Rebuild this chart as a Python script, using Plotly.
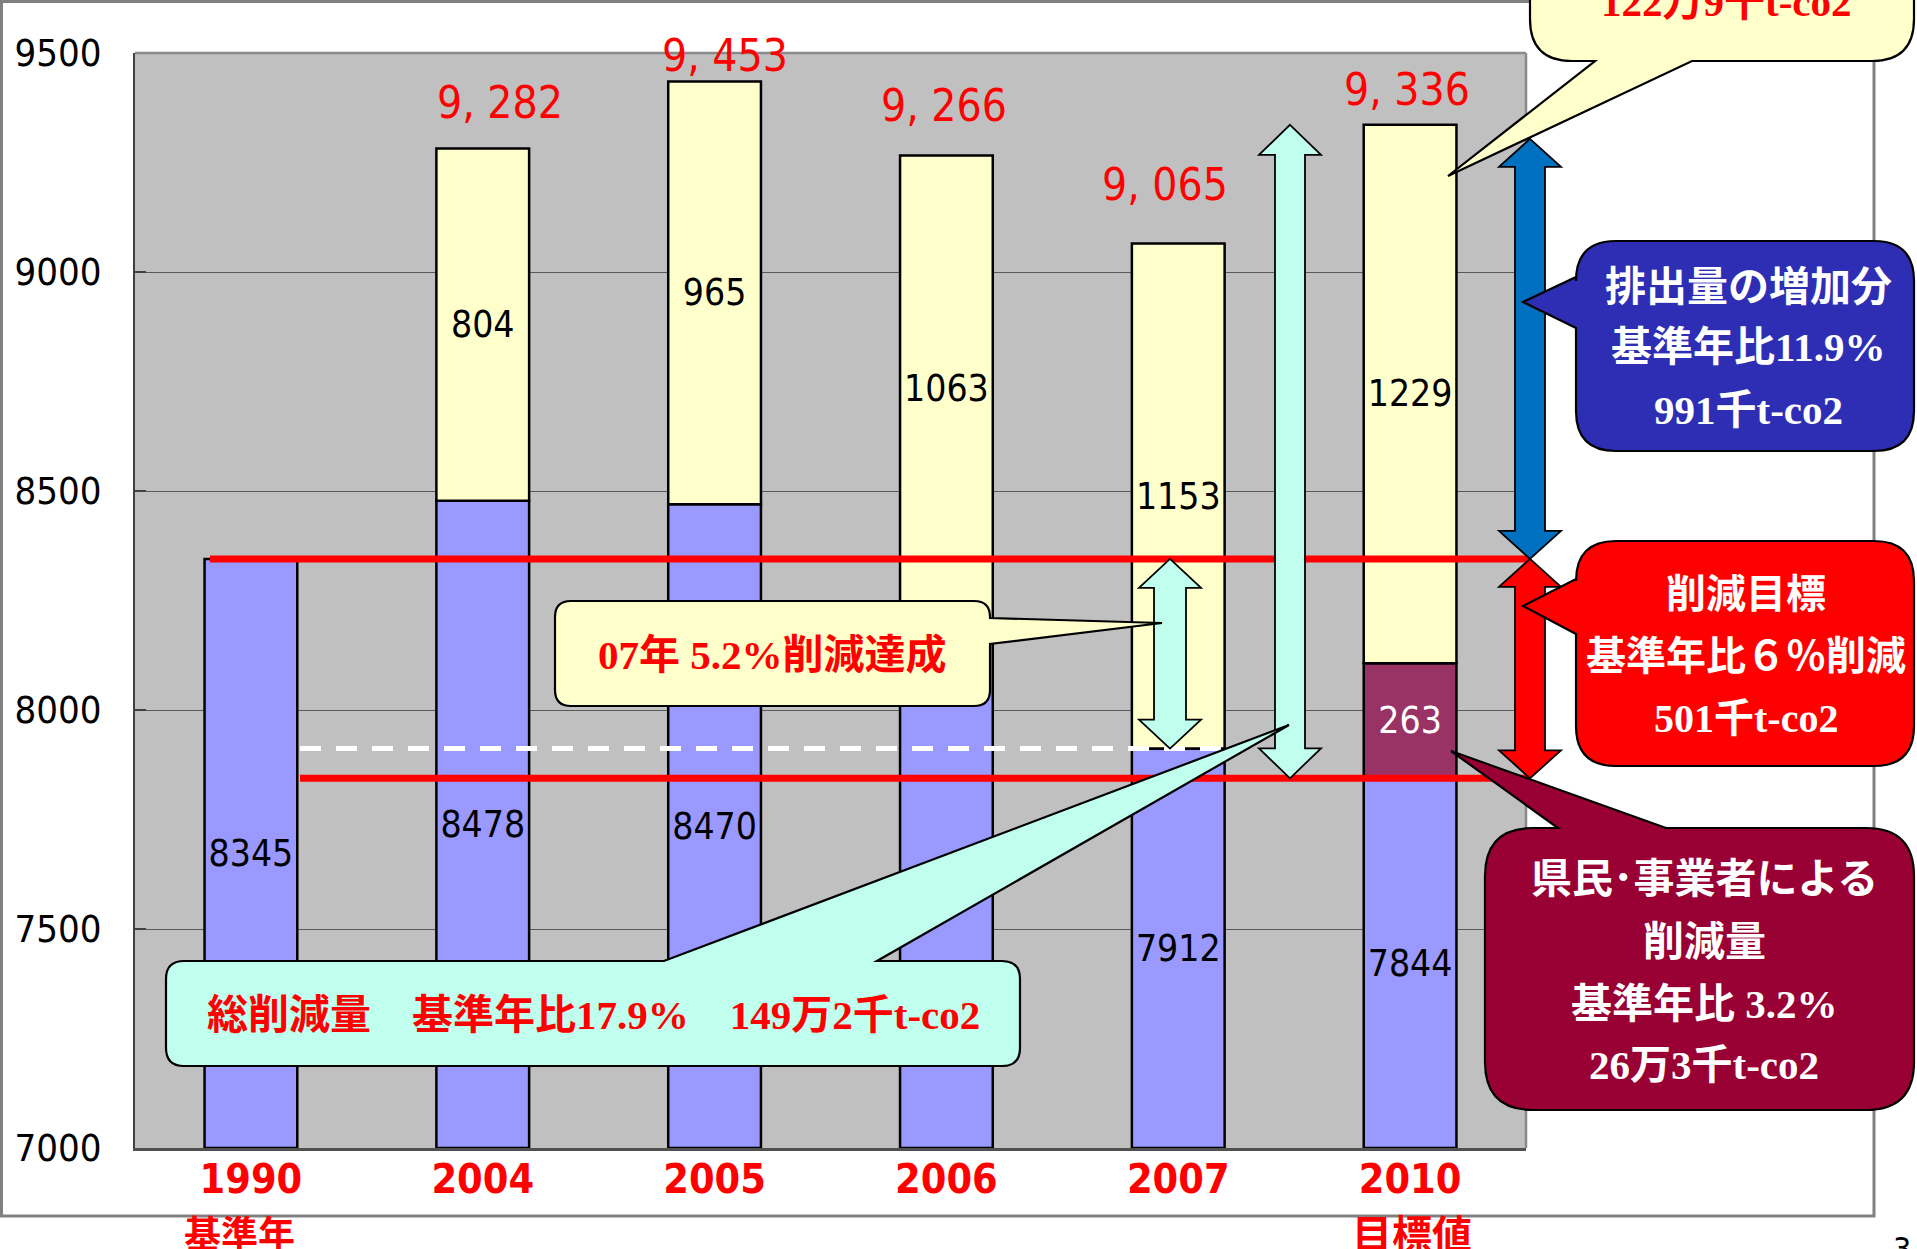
import plotly.graph_objects as go

# ---------------- data ----------------
years = ["1990", "2004", "2005", "2006", "2007", "2010"]
base_vals = [8345, 8478, 8470, 8203, 7912, 7844]          # blue segment (top value)
cut_vals = [None, None, None, None, None, 263]             # purple segment (2010)
increase_vals = [None, 804, 965, 1063, 1153, 1229]         # yellow segment
base_labels = ["8345", "8478", "8470", "", "7912", "7844"]
cut_labels = ["", "", "", "", "", "263"]
increase_labels = ["", "804", "965", "1063", "1153", "1229"]
total_labels = ["", "9, 282", "9, 453", "9, 266", "9, 065", "9, 336"]
sub_label_years = ["1990", "2010"]
sub_labels = ["基準年", "目標値"]
y_ticks = [7000, 7500, 8000, 8500, 9000, 9500]
y_tick_text = ["7000", "7500", "8000", "8500", "9000", "9500"]
base_year_value = 8345      # 1990 level
target_value = 7844         # 6% reduction target
achieved_2007 = 7912        # 2007 level

Y_MIN, Y_MAX = y_ticks[0], y_ticks[-1]
cut_base = [b for b in base_vals]
inc_base = [b + (c or 0) for b, c in zip(base_vals, cut_vals)]
totals = [ib + (i or 0) for ib, i in zip(inc_base, increase_vals)]

# ---------------- layout geometry ----------------
W, H = 1917, 1249
ML, MR, MT, MB = 135, 391, 53, 101
PW = W - ML - MR
PH = H - MT - MB
DATA_PER_PX = (Y_MAX - Y_MIN) / PH


def px(x):
    return (x - ML) / PW


def py(y):
    return (H - MB - y) / PH


NARROW = "DejaVu Sans Condensed, Liberation Sans Narrow, Arial Narrow, sans-serif"
CALLOUT_FONT = "Liberation Serif, Times New Roman, Noto Sans CJK JP, serif"
CJK = "Noto Sans CJK JP, sans-serif"

fig = go.Figure()

bar_line = dict(color="black", width=2.5)
common = dict(width=0.4, textposition="inside", insidetextanchor="middle",
              constraintext="none", textangle=0, hoverinfo="skip")
fig.add_trace(go.Bar(x=years, y=[v - Y_MIN for v in base_vals], base=Y_MIN, text=base_labels,
                     marker=dict(color="#9999FF", line=bar_line),
                     textfont=dict(family=NARROW, size=37, color="black"), **common))
fig.add_trace(go.Bar(x=years, y=cut_vals, base=cut_base, text=cut_labels,
                     marker=dict(color="#993366", line=bar_line),
                     textfont=dict(family=NARROW, size=37, color="white"), **common))
fig.add_trace(go.Bar(x=years, y=increase_vals, base=inc_base, text=increase_labels,
                     marker=dict(color="#FFFFCC", line=bar_line),
                     textfont=dict(family=NARROW, size=37, color="black"), **common))

shapes = []
# outer slide frame
shapes.append(dict(type="rect", xref="paper", yref="paper",
                   x0=px(1.5), x1=px(1874), y0=py(1.5), y1=py(1216),
                   line=dict(color="#808080", width=3), fillcolor="rgba(0,0,0,0)"))
# plot area top/right border
shapes.append(dict(type="line", xref="paper", yref="paper", x0=0, x1=1, y0=1, y1=1,
                   line=dict(color="#8a8a8a", width=2.5)))
shapes.append(dict(type="line", xref="paper", yref="paper", x0=1, x1=1, y0=0, y1=1,
                   line=dict(color="#8a8a8a", width=2.5)))

# red reference lines
shapes.append(dict(type="line", xref="paper", yref="y", x0=px(210), x1=px(1530),
                   y0=base_year_value, y1=base_year_value,
                   line=dict(color="#FF0000", width=7)))
shapes.append(dict(type="line", xref="paper", yref="y", x0=px(300), x1=px(1530),
                   y0=target_value, y1=target_value,
                   line=dict(color="#FF0000", width=7)))
# white dashed 2007 line
shapes.append(dict(type="line", xref="paper", yref="y", x0=px(300), x1=px(1222),
                   y0=achieved_2007, y1=achieved_2007,
                   line=dict(color="white", width=5, dash="21px,15px")))


def varrow(xc, ytop, ybot, shaft, head, hlen, color):
    hl = hlen * DATA_PER_PX
    pts = [(0, ytop), (head / 2, ytop - hl), (shaft / 2, ytop - hl), (shaft / 2, ybot + hl),
           (head / 2, ybot + hl), (0, ybot), (-head / 2, ybot + hl), (-shaft / 2, ybot + hl),
           (-shaft / 2, ytop - hl), (-head / 2, ytop - hl)]
    path = "M " + " L ".join(f"{px(xc + dx):.5f},{yy:.3f}" for dx, yy in pts) + " Z"
    return dict(type="path", xref="paper", yref="y", path=path,
                fillcolor=color, line=dict(color="black", width=1.8))


CYAN = "#C0FFEE"
shapes.append(varrow(1170, base_year_value, achieved_2007, 32, 62, 29, CYAN))
shapes.append(varrow(1290, totals[5], target_value, 30, 62, 30, CYAN))
shapes.append(varrow(1530, totals[5] - 14 * DATA_PER_PX, base_year_value, 30, 62, 28, "#0070C0"))
shapes.append(varrow(1530, base_year_value, target_value, 30, 62, 28, "#FF0000"))


def callout(x0, y0, x1, y1, r, side, p1, tip, p2, fill):
    """Rounded rectangle (pixel coords) with a triangular pointer on one side."""
    seg = []

    def P(x, y):
        return f"{px(x):.5f},{py(y):.5f}"

    seg.append("M " + P(x0 + r, y0))
    if side == "top":
        seg += ["L " + P(p1, y0), "L " + P(*tip), "L " + P(p2, y0)]
    seg.append("L " + P(x1 - r, y0))
    seg.append("Q " + P(x1, y0) + " " + P(x1, y0 + r))
    if side == "right":
        seg += ["L " + P(x1, p1), "L " + P(*tip), "L " + P(x1, p2)]
    seg.append("L " + P(x1, y1 - r))
    seg.append("Q " + P(x1, y1) + " " + P(x1 - r, y1))
    if side == "bottom":
        seg += ["L " + P(p1, y1), "L " + P(*tip), "L " + P(p2, y1)]
    seg.append("L " + P(x0 + r, y1))
    seg.append("Q " + P(x0, y1) + " " + P(x0, y1 - r))
    if side == "left":
        seg += ["L " + P(x0, p1), "L " + P(*tip), "L " + P(x0, p2)]
    seg.append("L " + P(x0, y0 + r))
    seg.append("Q " + P(x0, y0) + " " + P(x0 + r, y0))
    seg.append("Z")
    return dict(type="path", xref="paper", yref="paper", path=" ".join(seg),
                fillcolor=fill, line=dict(color="black", width=2.2))


shapes.append(callout(1530, -90, 1914, 61, 42, "bottom", 1692, (1448, 176), 1595, "#FFFFCC"))
shapes.append(callout(1576, 241, 1914, 451, 40, "left", 328, (1523, 302), 277, "#2E2EB5"))
shapes.append(callout(1576, 541, 1914, 766, 40, "left", 634, (1523, 606), 579, "#FF0000"))
shapes.append(callout(1485, 828, 1914, 1110, 48, "top", 1558, (1451, 751), 1666, "#990033"))
shapes.append(callout(555, 601, 990, 706, 16, "right", 618, (1162, 623), 644, "#FFFFCC"))
shapes.append(callout(166, 961, 1020, 1066, 18, "top", 664, (1289, 725), 877, CYAN))

annotations = []


def txt(x, y, text, color, size, family=CALLOUT_FONT, bold=True):
    annotations.append(dict(xref="paper", yref="paper", x=px(x), y=py(y), text=text,
                            showarrow=False, xanchor="center", yanchor="middle",
                            font=dict(family=family, size=size, color=color,
                                      weight="bold" if bold else "normal")))


# callout texts
txt(1726, 2, "122万9千t-co2", "#FF0000", 41)
for yy, t in zip([287, 347, 410], ["排出量の増加分", "基準年比11.9%", "991千t-co2"]):
    txt(1748, yy, t, "white", 41)
for yy, t in zip([594, 656, 718], ["削減目標", "基準年比６％削減", "501千t-co2"]):
    txt(1746, yy, t, "white", 40)
for yy, t in zip([879, 942, 1004, 1065], ["県民･事業者による", "削減量", "基準年比 3.2%", "26万3千t-co2"]):
    txt(1704, yy, t, "white", 41)
txt(772, 655, "07年 5.2%削減達成", "#FF0000", 41)
txt(593, 1015, "総削減量　基準年比17.9%　149万2千t-co2", "#FF0000", 41)

# totals above bars
total_xshift = [0, 17, 10, -2, -13, -3]
total_yshift = [0, 46, 26, 50, 59, 35]
for idx, (tot, lab, dx, dy) in enumerate(zip(totals, total_labels, total_xshift, total_yshift)):
    if lab:
        annotations.append(dict(xref="x", yref="y", x=idx, y=tot, text=lab, showarrow=False,
                                xanchor="center", yanchor="middle", xshift=dx, yshift=dy,
                                font=dict(family=NARROW, size=44, color="#FF0000")))

# sub labels under x ticks
for yr, lab, dx, yy, sz in zip(sub_label_years, sub_labels, [-11, 2], [1232, 1232], [37, 40]):
    annotations.append(dict(xref="x", yref="paper", x=years.index(yr), y=py(yy), text=lab,
                            showarrow=False, xanchor="center", yanchor="middle", xshift=dx,
                            font=dict(family=CJK, size=sz, color="#FF0000", weight="bold")))

# page number
annotations.append(dict(xref="paper", yref="paper", x=px(1902), y=py(1228), text="3",
                        showarrow=False, xanchor="center", yanchor="top",
                        font=dict(family=NARROW, size=32, color="black")))

fig.update_layout(
    width=W, height=H,
    margin=dict(l=ML, r=MR, t=MT, b=MB, pad=0, autoexpand=False),
    barmode="overlay", bargap=0.6,
    showlegend=False,
    paper_bgcolor="white", plot_bgcolor="#C0C0C0",
    shapes=shapes, annotations=annotations,
    xaxis=dict(type="category", categoryorder="array", categoryarray=years,
               range=[-0.5, len(years) - 0.5],
               tickvals=years, ticktext=years, ticks="", showgrid=False,
               showline=True, linecolor="#505050", linewidth=2.5,
               tickfont=dict(family=NARROW, size=41, color="#FF0000", weight="bold"),
               ticklabelstandoff=-7),
    yaxis=dict(range=[Y_MIN, Y_MAX], tickvals=y_ticks, ticktext=y_tick_text,
               showgrid=True, gridcolor="#5a5a5a", gridwidth=1, zeroline=False,
               ticks="inside", ticklen=11, tickwidth=2, tickcolor="#404040",
               showline=True, linecolor="#404040", linewidth=2,
               tickfont=dict(family=NARROW, size=38, color="black"),
               ticklabelstandoff=24),
)

fig.write_html("out.html", config={"displayModeBar": False},
               post_script="document.body.style.margin='0px';")
